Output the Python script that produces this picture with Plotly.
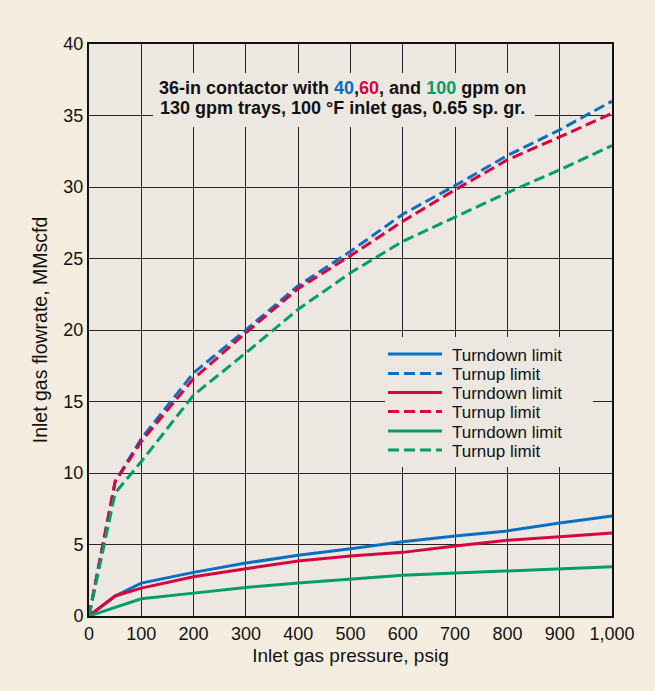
import plotly.graph_objects as go

# Inlet gas pressure, psig
pressure = [0, 50, 100, 200, 300, 400, 500, 600, 700, 800, 900, 1000]

# Inlet gas flowrate, MMscfd, for each circulation rate
turndown_40 = [0, 1.4, 2.3, 3.05, 3.7, 4.25, 4.7, 5.2, 5.6, 5.95, 6.5, 7.0]
turnup_40 = [0, 9.4, 12.4, 17.0, 20.0, 23.1, 25.5, 28.1, 30.1, 32.2, 34.0, 36.0]
turndown_60 = [0, 1.4, 1.95, 2.75, 3.3, 3.85, 4.2, 4.45, 4.9, 5.3, 5.55, 5.8]
turnup_60 = [0, 9.4, 12.2, 16.6, 19.8, 22.9, 25.2, 27.6, 29.8, 31.9, 33.5, 35.15]
turndown_100 = [0, 0.6, 1.2, 1.6, 2.0, 2.3, 2.6, 2.85, 3.0, 3.15, 3.35, 3.45]
turnup_100 = [0, 8.6, 10.8, 15.45, 18.4, 21.45, 24.0, 26.2, 27.9, 29.6, 31.2, 32.9]

x_ticks = [0, 100, 200, 300, 400, 500, 600, 700, 800, 900, 1000]
x_tick_text = ["0", "100", "200", "300", "400", "500", "600", "700", "800", "900", "1,000"]
y_ticks = [0, 5, 10, 15, 20, 25, 30, 35, 40]

BLUE = "#0A6FC2"
RED = "#D9043F"
GREEN = "#009E68"
PAPER = "#F5EEE0"
PLOT_BG = "#ECE8E1"
FONT = "Liberation Sans, Arial, sans-serif"

series = [
    ("Turndown limit", turndown_40, BLUE, "solid"),
    ("Turnup limit", turnup_40, BLUE, "11px,5px"),
    ("Turndown limit", turndown_60, RED, "solid"),
    ("Turnup limit", turnup_60, RED, "11px,5px"),
    ("Turndown limit", turndown_100, GREEN, "solid"),
    ("Turnup limit", turnup_100, GREEN, "11px,5px"),
]

fig = go.Figure()
for name, values, color, dash in series:
    fig.add_trace(go.Scatter(
        x=pressure, y=values, mode="lines", name=name, showlegend=False,
        line=dict(color=color, width=3, dash=dash),
    ))

# page geometry (pixels) of the plotting area
W, H = 655, 691
L, R, T, B = 89, 612, 44, 616


def px(xp):
    return (xp - L) / (R - L)


def py(yp):
    return (B - yp) / (B - T)


shapes = []
annotations = []

# panels that hide the grid behind the caption and the key
for x0, x1, y0, y1 in [(153, 535, 73, 127), (385, 593, 337, 467)]:
    shapes.append(dict(
        type="rect", xref="paper", yref="paper", layer="above",
        x0=px(x0), x1=px(x1), y0=py(y1), y1=py(y0),
        fillcolor=PLOT_BG, line=dict(width=0),
    ))

# caption, two lines with coloured rates
caption = [
    ("36-in contactor with <span style='color:%s'>40</span>,"
     "<span style='color:%s'>60</span>, and "
     "<span style='color:%s'>100</span> gpm on" % (BLUE, RED, GREEN), 88),
    ("130 gpm trays, 100 °F inlet gas, 0.65 sp. gr.", 107.5),
]
for text, yc in caption:
    annotations.append(dict(
        text="<b>%s</b>" % text, xref="paper", yref="paper",
        x=px(342), y=py(yc), xanchor="center", yanchor="middle",
        showarrow=False, font=dict(family=FONT, size=18, color="#111111"),
    ))

# key
row_y = [354, 373.5, 392.5, 411.5, 431, 450]
for (name, values, color, dash), yr in zip(series, row_y):
    shapes.append(dict(
        type="line", xref="paper", yref="paper", layer="above",
        x0=px(388), x1=px(442), y0=py(yr), y1=py(yr),
        line=dict(color=color, width=3, dash=dash),
    ))
    annotations.append(dict(
        text=name, xref="paper", yref="paper",
        x=px(450), y=py(yr + 1), xanchor="left", yanchor="middle",
        showarrow=False, font=dict(family=FONT, size=17, color="#111111"),
    ))

fig.update_layout(
    width=W, height=H,
    margin=dict(l=L, r=W - R, t=T, b=H - B, pad=0),
    paper_bgcolor=PAPER, plot_bgcolor=PLOT_BG,
    font=dict(family=FONT, size=18, color="#111111"),
    shapes=shapes, annotations=annotations,
    showlegend=False,
)
fig.update_xaxes(
    range=[0, 1000], tickvals=x_ticks, ticktext=x_tick_text,
    showgrid=True, gridcolor="#262626", gridwidth=1.4,
    showline=True, linecolor="#111111", linewidth=2, mirror=True,
    ticks="", zeroline=False,
    title=dict(text="Inlet gas pressure, psig", standoff=6,
               font=dict(size=19)),
)
fig.update_yaxes(
    range=[0, 40], tickvals=y_ticks,
    showgrid=True, gridcolor="#262626", gridwidth=1.4,
    showline=True, linecolor="#111111", linewidth=2, mirror=True,
    ticks="", zeroline=False,
    title=dict(text="Inlet gas flowrate, MMscfd", standoff=11,
               font=dict(size=19.5)),
)

fig.write_html("out.html")
